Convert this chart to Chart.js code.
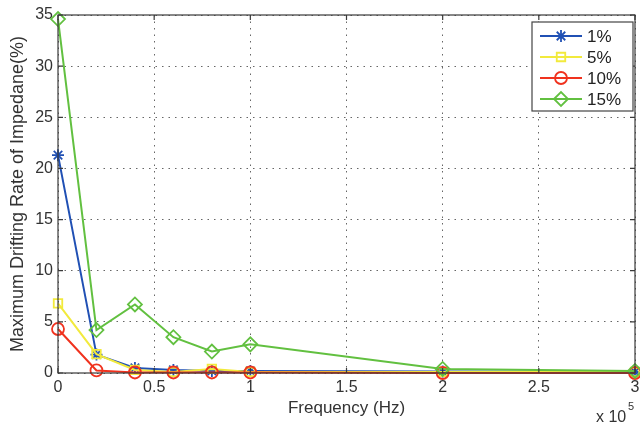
<!DOCTYPE html>
<html>
<head>
<meta charset="utf-8">
<script src="https://cdn.jsdelivr.net/npm/chart.js@4.4.1/dist/chart.umd.min.js"></script>
<style>
  html, body { margin: 0; padding: 0; background: #fff; }
  #wrap { width: 640px; height: 427px; position: relative; }
</style>
</head>
<body>
<div id="wrap"><canvas id="chart" width="640" height="427"></canvas></div>
<script>
// frequency in units of 1e5 Hz
var frequency = [0, 0.2, 0.4, 0.6, 0.8, 1, 2, 3];
var rate1  = [21.3, 1.8, 0.5, 0.3, 0.2, 0.2, 0.15, 0.1];
var rate5  = [6.8, 1.85, 0.3, 0.1, 0.4, 0.1, 0.1, 0.1];
var rate10 = [4.3, 0.25, 0.05, 0.05, 0.05, 0.05, 0.0, 0.0];
var rate15 = [34.6, 4.2, 6.7, 3.5, 2.1, 2.8, 0.4, 0.2];
var seriesNames = ['1%', '5%', '10%', '15%'];
var xTicks = [0, 0.5, 1, 1.5, 2, 2.5, 3];
var yTicks = [0, 5, 10, 15, 20, 25, 30, 35];

var FONT = '"Liberation Sans", Arial, Helvetica, sans-serif';

function toPoints(ys) {
    return frequency.map(function (x, i) { return { x: x, y: ys[i] }; });
}

function makeSet(label, ys, color, style, radius, order) {
    return {
        label: label,
        data: toPoints(ys),
        borderColor: color,
        backgroundColor: 'rgba(0,0,0,0)',
        pointBorderColor: color,
        pointBackgroundColor: 'rgba(0,0,0,0)',
        pointStyle: style,
        pointRadius: radius,
        pointBorderWidth: 1.8,
        borderWidth: 2,
        tension: 0,
        order: order
    };
}

var colors = ['#2050b4', '#f2ea3c', '#f0321e', '#62c040'];
var styles = ['star', 'rect', 'circle', 'rectRot'];
var radii = [6, 6, 6, 7];

var frame = {
    id: 'frame',
    afterDatasetsDraw: function (chart) {
        var a = chart.chartArea, ctx = chart.ctx;
        var xs = chart.scales.x, ys = chart.scales.y;
        ctx.save();
        ctx.strokeStyle = '#3a3a3a';
        ctx.lineWidth = 1.2;
        ctx.strokeRect(a.left, a.top, a.right - a.left, a.bottom - a.top);

        // inner tick marks
        ctx.beginPath();
        xTicks.forEach(function (t) {
            var px = xs.getPixelForValue(t);
            ctx.moveTo(px, a.bottom); ctx.lineTo(px, a.bottom - 5);
            ctx.moveTo(px, a.top); ctx.lineTo(px, a.top + 5);
        });
        yTicks.forEach(function (t) {
            var py = ys.getPixelForValue(t);
            ctx.moveTo(a.left, py); ctx.lineTo(a.left + 5, py);
            ctx.moveTo(a.right, py); ctx.lineTo(a.right - 5, py);
        });
        ctx.stroke();

        // x tick labels
        ctx.fillStyle = '#333';
        ctx.font = '16px ' + FONT;
        ctx.textAlign = 'center';
        ctx.textBaseline = 'middle';
        xTicks.forEach(function (t) {
            ctx.fillText(String(t), xs.getPixelForValue(t), a.bottom + 15);
        });

        // legend box
        var lx = a.right - 103, ly = a.top + 7, lw = 101, lh = 89;
        ctx.fillStyle = '#fff';
        ctx.fillRect(lx, ly, lw, lh);
        ctx.strokeStyle = '#444';
        ctx.lineWidth = 1.2;
        ctx.strokeRect(lx, ly, lw, lh);
        ctx.textBaseline = 'middle';
        ctx.textAlign = 'left';
        for (var i = 0; i < seriesNames.length; i++) {
            var cy = ly + 14 + i * 21;
            ctx.strokeStyle = colors[i];
            ctx.lineWidth = 2;
            ctx.beginPath();
            ctx.moveTo(lx + 8, cy); ctx.lineTo(lx + 50, cy);
            ctx.stroke();
            ctx.lineWidth = 1.8;
            ctx.fillStyle = 'rgba(0,0,0,0)';
            Chart.helpers.drawPoint(ctx, { pointStyle: styles[i], radius: radii[i], borderWidth: 1.8, rotation: 0 }, lx + 29, cy);
            ctx.fillStyle = '#222';
            ctx.font = '17px ' + FONT;
            ctx.fillText(seriesNames[i], lx + 55, cy + 1);
        }

        // exponent label
        ctx.fillStyle = '#333';
        ctx.font = '16px ' + FONT;
        ctx.fillText('x 10', 596, 418);
        ctx.font = '11px ' + FONT;
        ctx.fillText('5', 628, 407);
        ctx.restore();
    }
};

var gridStyle = {
    color: '#666',
    lineWidth: 1,
    drawTicks: false
};

new Chart(document.getElementById('chart'), {
    type: 'line',
    data: {
        datasets: [
            makeSet(seriesNames[0], rate1, colors[0], styles[0], radii[0], 4),
            makeSet(seriesNames[1], rate5, colors[1], styles[1], radii[1], 3),
            makeSet(seriesNames[2], rate10, colors[2], styles[2], radii[2], 2),
            makeSet(seriesNames[3], rate15, colors[3], styles[3], radii[3], 1)
        ]
    },
    options: {
        responsive: false,
        animation: false,
        clip: false,
        layout: { autoPadding: false, padding: { top: 15, right: 5, left: 0, bottom: 0 } },
        plugins: {
            legend: { display: false },
            tooltip: { enabled: false }
        },
        scales: {
            x: {
                type: 'linear',
                min: 0, max: 3,
                afterBuildTicks: function (s) { s.ticks = xTicks.map(function (v) { return { value: v }; }); },
                ticks: { display: false },
                grid: gridStyle,
                border: { display: false, dash: [1.5, 5] },
                title: {
                    display: true,
                    text: 'Frequency (Hz)',
                    color: '#333',
                    font: { family: FONT, size: 17 },
                    padding: { top: 0, bottom: 8 }
                },
                afterFit: function (s) { s.height = 54; }
            },
            y: {
                type: 'linear',
                min: 0, max: 35,
                afterBuildTicks: function (s) { s.ticks = yTicks.map(function (v) { return { value: v }; }); },
                ticks: {
                    color: '#333',
                    font: { family: FONT, size: 16 },
                    padding: 5,
                    callback: function (v) { return String(v); }
                },
                grid: gridStyle,
                border: { display: false, dash: [1.5, 5] },
                title: {
                    display: true,
                    text: 'Maximum Drifting Rate of Impedane(%)',
                    color: '#333',
                    font: { family: FONT, size: 18 },
                    padding: { top: 7, bottom: 0 }
                },
                afterFit: function (s) { s.width = 58; s.paddingTop = 0; s.paddingBottom = 0; }
            }
        }
    },
    plugins: [frame]
});
</script>
</body>
</html>
